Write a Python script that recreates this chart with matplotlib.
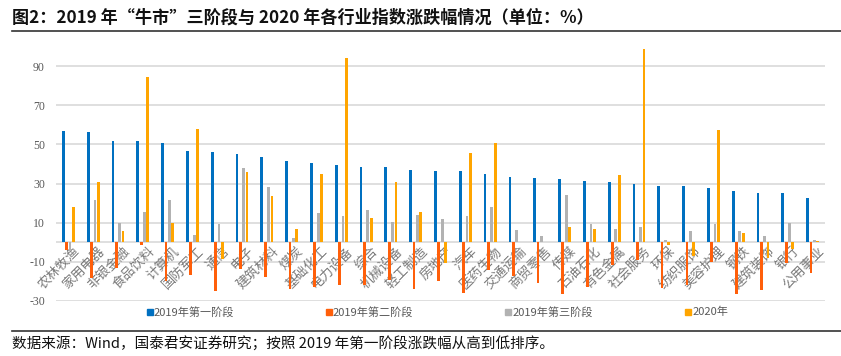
import matplotlib
matplotlib.use("Agg")
import matplotlib.pyplot as plt
import numpy as np
from matplotlib.lines import Line2D

plt.rcParams['font.family'] = ['Noto Sans CJK SC', 'DejaVu Sans']

categories = ["农林牧渔", "家用电器", "非银金融", "食品饮料", "计算机", "国防军工", "通信", "电子",
              "建筑材料", "煤炭", "基础化工", "电力设备", "综合", "机械设备", "轻工制造", "房地产",
              "汽车", "医药生物", "交通运输", "商贸零售", "传媒", "石油石化", "有色金属", "社会服务",
              "环保", "纺织服饰", "美容护理", "钢铁", "建筑装饰", "银行", "公用事业"]

stage1 = [56.9, 56.4, 51.6, 51.6, 50.9, 46.5, 46.0, 45.3, 43.4, 41.7, 40.3, 39.7, 38.6, 38.5, 36.8, 36.6,
          36.6, 34.7, 33.2, 32.6, 32.1, 31.1, 30.8, 29.9, 28.9, 28.9, 27.7, 26.0, 25.0, 25.0, 22.7]
stage2 = [-3.8, -18.3, -13.3, -1.5, -19.7, -16.8, -25.1, -13.8, -17.9, -23.9, -23.2, -21.9, -22.2, -19.3,
          -23.9, -20.0, -26.2, -14.2, -17.4, -21.0, -26.5, -23.1, -11.5, -9.4, -23.6, -22.1, -10.1, -26.8,
          -24.4, -10.8, -15.9]
stage3 = [-4.3, 21.7, 9.9, 15.2, 21.4, 3.6, 9.1, 38.1, 28.0, 2.2, 14.7, 13.3, 16.2, 10.3, 14.0, 11.6,
          13.3, 17.8, 6.0, 3.1, 23.9, 9.4, 6.5, 7.7, 1.2, 5.8, 9.2, 5.5, 2.9, 9.7, 1.2]
y2020 = [18.0, 30.8, 5.8, 84.6, 9.6, 57.8, -8.5, 35.9, 23.6, 6.8, 34.7, 94.5, 12.6, 30.8, 15.6, -10.8,
         45.5, 50.6, 0.0, 0.0, 7.5, 6.5, 34.5, 98.8, -1.5, -7.2, 57.6, 4.6, -8.0, -3.6, 0.7]

series_names = ["2019年第一阶段", "2019年第二阶段", "2019年第三阶段", "2020年"]
colors = ["#0070C0", "#FF5F0A", "#B2B2B2", "#FFA500"]
yticks = [-30, -10, 10, 30, 50, 70, 90]

fig = plt.figure(figsize=(8.41, 3.56), dpi=100)
ax = fig.add_axes([0.0666, 0.1553, 0.9144, 0.7351])

x = np.arange(len(categories))
w = 0.112
step = 0.135
offsets = [-1.5 * step, -0.5 * step, 0.5 * step, 1.5 * step]
for vals, off, c, name in zip([stage1, stage2, stage3, y2020], offsets, colors, series_names):
    ax.bar(x + off, vals, width=w, color=c, label=name, zorder=3, linewidth=0)

ax.set_xlim(-0.5, len(categories) - 0.5)
ax.set_ylim(-30, 104)
ax.set_yticks(yticks)
ax.set_yticklabels([str(v) for v in yticks], fontsize=8.5, color="#595959", family=['Liberation Serif'])
ax.yaxis.grid(True, color="#D9D9D9", linewidth=1.2, zorder=0)
ax.axhline(0, color="#D9D9D9", linewidth=1.2, zorder=2)
ax.tick_params(axis='y', length=0, pad=8)
ax.set_xticks([])
for s in ax.spines.values():
    s.set_visible(False)

for xi, name in zip(x, categories):
    ax.text(xi + 0.2, -1.3, name, rotation=45, ha='right', va='top', rotation_mode='anchor',
            fontsize=9.5, color="#7A7A7A", fontweight='light', zorder=2)

legend_x = [0.178, 0.391, 0.604, 0.818]
for lx, c, name in zip(legend_x, colors, series_names):
    fig.add_artist(Line2D([lx], [0.124], marker='s', linestyle='none', markersize=4.5,
                          markerfacecolor=c, markeredgecolor=c))
    fig.text(lx + 0.005, 0.124, name, fontsize=8, color="#595959", ha='left', va='center')

fig.text(0.014, 0.952, "图2：2019 年“牛市”三阶段与 2020 年各行业指数涨跌幅情况（单位：%）",
         fontsize=12.3, fontweight='bold', ha='left', va='center', color="#111111")
fig.add_artist(Line2D([0.014, 1.0], [0.913, 0.913], color="#333333", linewidth=1.2))
fig.add_artist(Line2D([0.014, 1.0], [0.070, 0.070], color="#333333", linewidth=1.2))
fig.text(0.014, 0.034, "数据来源：Wind，国泰君安证券研究；按照 2019 年第一阶段涨跌幅从高到低排序。",
         fontsize=10.5, ha='left', va='center', color="#111111")

fig.savefig("out.png", dpi=100)
